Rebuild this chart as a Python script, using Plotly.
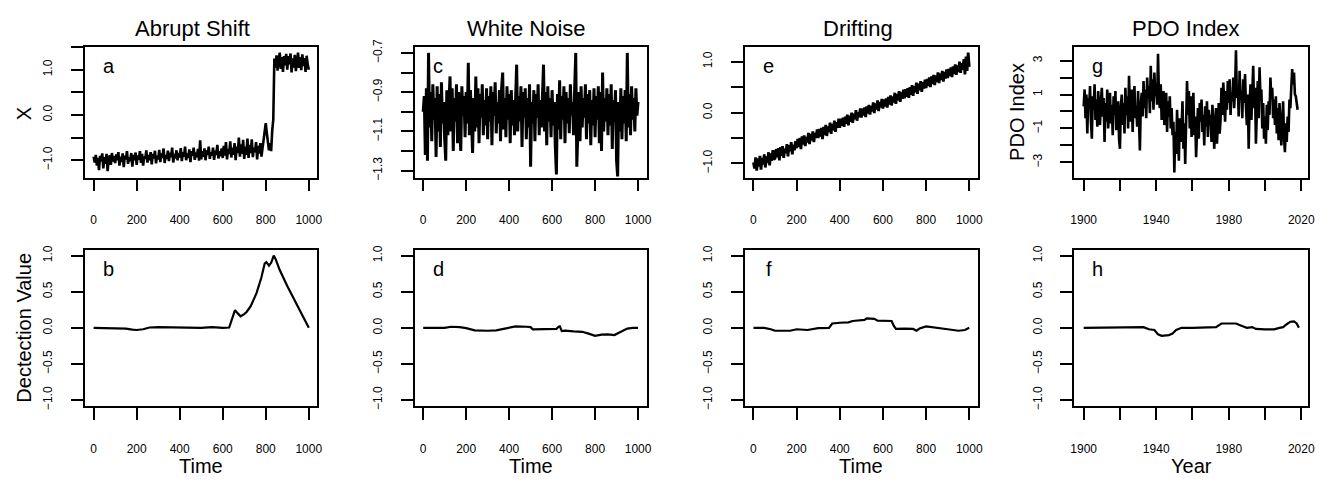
import numpy as np
import plotly.graph_objects as go

# ---------------- data ----------------
# Panel a: Abrupt Shift, sampled every 5 time steps (0..1000)
abrupt_vals = [
    -0.92,-1.05,-0.88,-1.12,-0.95,-1.22,-0.90,-1.02,-0.85,-1.18,-0.93,-1.08,-0.86,-1.24,-0.97,-0.89,-1.10,-0.84,-1.03,-0.91,
    -1.06,-0.87,-1.00,-0.82,-1.12,-0.92,-1.04,-0.85,-1.15,-0.90,-0.98,-0.80,-1.08,-0.93,-1.02,-0.84,-1.14,-0.88,-1.00,-0.83,
    -1.10,-0.89,-0.99,-0.80,-1.06,-0.86,-1.12,-0.92,-0.97,-0.78,-1.05,-0.88,-1.00,-0.82,-1.09,-0.86,-0.96,-0.79,-1.07,-0.90,
    -0.98,-0.77,-1.04,-0.85,-0.95,-0.74,-1.06,-0.88,-0.97,-0.79,-1.02,-0.83,-0.93,-0.72,-1.05,-0.86,-0.96,-0.78,-1.00,-0.84,
    -0.94,-0.73,-1.02,-0.82,-0.92,-0.70,-1.00,-0.85,-0.95,-0.76,-1.04,-0.80,-0.90,-0.72,-0.99,-0.83,-0.93,-0.75,-1.01,-0.56,
    -0.98,-0.80,-0.92,-0.74,-1.00,-0.78,-0.88,-0.70,-0.97,-0.82,-0.90,-0.72,-0.99,-0.79,-0.88,-0.66,-0.96,-0.80,-0.91,-0.74,
    -0.95,-0.68,-0.90,-0.60,-0.98,-0.75,-0.86,-0.58,-0.94,-0.72,-0.88,-0.62,-1.00,-0.70,-0.84,-0.50,-0.92,-0.65,-0.86,-0.55,
    -0.97,-0.70,-0.88,-0.52,-0.95,-0.66,-0.84,-0.54,-0.93,-0.72,-0.82,-0.60,-0.98,-0.68,-0.85,-0.62,-0.92,-0.70,-0.60,-0.38,
    -0.18,-0.40,-0.55,-0.78,-0.62,-0.80,-0.35,-0.10,1.25,1.05,1.32,0.98,1.20,1.38,1.02,1.28,0.95,1.30,1.10,1.35,
    1.00,1.30,1.12,1.36,0.94,1.25,1.05,1.33,0.97,1.22,1.38,1.04,1.28,0.99,1.34,1.08,1.26,0.95,1.31,1.12,
    1.00,
]

# Panel c: White Noise, every 5 time steps
noise_vals = [
    -1.00,-0.92,-1.22,-0.88,-1.25,-0.70,-1.08,-0.90,-1.15,-0.86,-1.04,-0.93,-1.23,-0.87,-1.10,-0.91,-1.18,-0.85,-1.06,-0.95,
    -1.14,-1.25,-0.89,-1.12,-0.95,-0.82,-1.10,-0.88,-1.20,-0.93,-1.05,-0.86,-1.16,-0.90,-1.08,-1.20,-0.87,-1.02,-0.92,-1.13,
    -0.90,-1.06,-0.75,-1.12,-0.89,-1.04,-1.21,-0.93,-1.10,-0.82,-1.08,-0.88,-1.16,-0.91,-1.03,-0.86,-1.12,-0.94,-1.07,-0.88,
    -1.14,-0.92,-1.05,-0.87,-1.17,-0.90,-1.02,-0.85,-1.11,-0.95,-1.06,-0.89,-1.15,-0.88,-0.80,-1.09,-0.93,-1.13,-0.87,-1.04,
    -0.91,-1.16,-0.89,-1.07,-0.94,-1.12,-0.86,-0.76,-1.10,-0.92,-1.05,-0.87,-1.18,-0.90,-1.03,-0.88,-1.14,-0.93,-1.08,-0.86,
    -1.28,-0.95,-1.06,-0.89,-1.15,-0.91,-1.03,-0.86,-1.12,-0.94,-1.08,-0.88,-0.76,-1.10,-0.90,-1.17,-0.87,-1.05,-0.93,-1.13,
    -0.89,-1.07,-0.95,-1.18,-1.32,-0.91,-1.09,-0.84,-1.14,-0.92,-1.04,-0.87,-1.16,-0.90,-1.06,-0.93,-1.11,-0.86,-1.02,-0.95,
    -1.12,-0.88,-0.70,-1.28,-1.05,-0.90,-1.15,-0.87,-1.08,-0.93,-1.03,-0.86,-1.14,-0.91,-1.06,-0.89,-1.17,-0.94,-1.07,-0.88,
    -1.13,-0.92,-1.04,-0.87,-1.16,-0.90,-1.20,-0.80,-1.10,-0.93,-1.05,-0.88,-1.12,-0.91,-1.07,-0.86,-1.19,-0.94,-1.05,-0.89,
    -1.25,-1.33,-0.95,-1.10,-0.88,-1.14,-0.92,-1.06,-0.89,-1.15,-0.70,-1.08,-0.91,-1.12,-0.87,-1.04,-0.93,-1.10,-0.88,-1.02,
    -0.95,
]

# Panel e: Drifting, every 5 time steps
drift_vals = [
    -0.98,-1.10,-0.88,-1.14,-0.90,-1.06,-0.85,-1.12,-0.89,-1.02,-0.82,-1.08,-0.86,-0.99,-0.78,-1.04,-0.80,-0.95,-0.74,-0.92,
    -0.90,-0.72,-0.88,-0.70,-0.94,-0.68,-0.85,-0.66,-0.89,-0.71,-0.80,-0.62,-0.86,-0.64,-0.76,-0.58,-0.82,-0.63,-0.74,-0.56,
    -0.70,-0.52,-0.68,-0.50,-0.72,-0.47,-0.63,-0.45,-0.66,-0.48,-0.59,-0.40,-0.62,-0.42,-0.55,-0.37,-0.58,-0.40,-0.50,-0.33,
    -0.50,-0.32,-0.47,-0.30,-0.52,-0.28,-0.44,-0.24,-0.46,-0.27,-0.38,-0.20,-0.42,-0.22,-0.35,-0.16,-0.38,-0.19,-0.30,-0.12,
    -0.30,-0.12,-0.26,-0.10,-0.28,-0.08,-0.22,-0.04,-0.25,-0.06,-0.18,0.00,-0.20,-0.02,-0.13,0.05,-0.16,0.01,-0.09,0.08,
    -0.10,0.08,-0.06,0.10,-0.09,0.12,-0.02,0.15,-0.04,0.13,0.02,0.20,-0.01,0.18,0.06,0.24,0.03,0.21,0.10,0.27,
    0.08,0.26,0.12,0.28,0.10,0.31,0.16,0.34,0.14,0.32,0.20,0.39,0.17,0.37,0.24,0.42,0.21,0.40,0.27,0.45,
    0.28,0.46,0.31,0.48,0.29,0.50,0.35,0.54,0.33,0.52,0.40,0.59,0.37,0.57,0.44,0.62,0.41,0.60,0.47,0.65,
    0.48,0.66,0.52,0.69,0.50,0.71,0.56,0.74,0.54,0.73,0.60,0.79,0.58,0.77,0.64,0.82,0.61,0.80,0.67,0.85,
    0.68,0.86,0.72,0.89,0.70,0.91,0.76,0.95,0.74,0.93,0.80,1.00,0.78,0.97,0.84,1.05,0.75,1.10,0.82,1.18,
    0.90,
]

# Panel g: PDO index, every half year 1900.0 .. 2018.0
pdo_vals = [
    0.3,1.3,-0.4,1.0,-1.3,0.8,0.2,1.5,-0.6,-1.6,0.9,0.1,1.6,-0.5,0.7,-0.9,1.2,0.0,-0.8,0.6,
    1.4,-0.3,0.8,-1.8,0.5,-0.6,1.3,-1.0,0.2,1.1,-0.7,0.4,-1.4,0.9,-0.2,1.2,-1.1,-0.3,0.6,-1.6,
    -2.2,0.3,1.0,-0.8,0.5,-1.3,1.4,-0.2,0.9,-1.0,2.1,0.2,-0.6,1.3,-1.2,0.6,1.5,-0.4,0.3,-0.9,
    1.2,-0.5,-2.3,0.4,1.1,-0.3,1.8,0.2,1.3,-0.4,2.0,0.8,1.5,-0.1,2.7,0.6,1.9,0.1,2.3,0.9,
    1.4,0.4,3.4,1.0,0.2,1.6,-0.5,0.8,1.2,-0.8,0.3,1.1,-1.2,0.6,-0.3,0.9,-1.0,0.2,-1.4,-0.6,
    -3.6,-1.2,-2.5,0.1,-1.6,-2.9,-0.4,-1.8,-0.9,0.6,-2.2,-0.7,-3.1,-1.3,1.8,-0.2,1.2,-1.0,0.9,-1.5,
    0.3,1.1,-1.4,-0.3,-2.7,-0.8,0.2,-1.6,0.5,-0.6,0.7,-1.2,-0.2,-2.0,0.3,-0.9,0.6,-1.5,0.1,-0.7,
    -0.2,-1.8,0.4,-0.6,-2.2,-0.9,0.2,-1.9,-0.4,0.5,-1.3,-0.5,1.4,-0.2,1.7,0.3,-0.6,1.2,0.1,1.8,
    0.5,1.9,-0.2,1.1,0.6,2.0,0.2,1.3,3.6,0.8,1.5,-0.3,2.4,0.7,1.2,-0.4,1.9,0.5,2.2,0.3,
    -0.8,1.0,-2.2,0.4,1.6,-0.5,0.9,2.7,0.2,1.4,-1.9,0.3,1.8,-0.4,2.6,0.9,1.3,-1.0,0.5,-1.6,
    -0.3,-1.9,0.4,-1.1,0.6,-0.2,2.0,0.8,1.4,-0.4,0.7,-0.8,0.9,-1.3,0.2,-1.7,0.5,-0.6,-2.0,-0.9,
    0.6,-1.5,-2.4,-0.7,-1.8,-0.3,-1.2,0.7,0.2,1.4,2.5,1.6,2.3,1.0,0.9,0.5,0.1,
]

# Bottom row: detection values
det_b_x = [0,50,100,150,180,200,230,260,300,400,500,550,580,600,630,645,657,670,683,700,711,730,757,780,795,803,815,825,837,846,865,900,926,950,972,990,1000]
det_b_y = [0,0,0,-0.01,-0.025,-0.03,-0.02,0.005,0.01,0.005,0.0,0.01,0.0,0.0,0.005,0.15,0.245,0.2,0.16,0.19,0.22,0.3,0.48,0.7,0.89,0.91,0.86,0.9,1.0,0.95,0.8,0.58,0.43,0.3,0.16,0.06,0.0]

det_d_x = [0,50,100,130,170,200,240,300,340,380,430,480,500,510,560,600,620,630,636,645,660,700,740,770,800,830,860,890,910,930,950,975,1000]
det_d_y = [0,0.005,0.0,0.015,0.01,-0.005,-0.035,-0.04,-0.035,-0.01,0.02,0.015,0.01,-0.02,-0.02,-0.02,-0.015,0.015,0.02,-0.045,-0.04,-0.05,-0.055,-0.08,-0.11,-0.095,-0.09,-0.1,-0.07,-0.04,-0.01,0.0,0.0]

det_f_x = [0,50,80,100,170,200,250,300,350,358,365,400,440,460,500,515,525,560,575,600,640,650,660,700,740,755,770,800,830,870,900,950,980,1000]
det_f_y = [0,0,-0.02,-0.04,-0.04,-0.02,-0.03,-0.005,0.0,0.03,0.06,0.07,0.075,0.095,0.1,0.11,0.13,0.125,0.1,0.1,0.095,0.03,-0.015,-0.01,-0.015,-0.04,-0.01,0.02,0.005,-0.01,-0.02,-0.04,-0.03,0.0]

det_h_x = [1900,1920,1925,1933,1936,1939,1941,1943,1947,1949,1951,1954,1960,1970,1973,1976,1980,1984,1987,1990,1993,1995,2000,2005,2008,2010,2012,2014,2016,2017.5,2018.7]
det_h_y = [0,0,0.01,0.01,-0.02,-0.03,-0.09,-0.11,-0.1,-0.08,-0.03,0.0,0.0,0.0,0.01,0.06,0.065,0.06,0.03,0.0,0.01,-0.015,-0.02,-0.02,0.0,0.01,0.05,0.085,0.09,0.06,0.0]

titles = ["Abrupt Shift", "White Noise", "Drifting", "PDO Index"]
letters_top = ["a", "c", "e", "g"]
letters_bot = ["b", "d", "f", "h"]
x_titles = ["Time", "Time", "Time", "Year"]

time_ticks = [0, 200, 400, 600, 800, 1000]
year_ticks = [1900, 1920, 1940, 1960, 1980, 2000, 2020]
year_text = ["1900", "", "1940", "", "1980", "", "2020"]

# ---------------- layout geometry ----------------
W, H = 1331, 482
FONT = "Liberation Sans, Arial, Helvetica, sans-serif"
cols = [(81.7, 316.0), (414.0, 648.0), (747.0, 982.0), (1079.0, 1315.0)]
top_row = (40.0, 174.0)
bot_row = (248.0, 408.0)
top_widths = [2.6, 3.0, 2.8, 2.6]

def xd(px0, px1):
    return [px0 / W, px1 / W]

def yd(py0, py1):
    return [1 - py1 / H, 1 - py0 / H]

fig = go.Figure()

t5 = [5 * i for i in range(len(abrupt_vals))]
pdo_x = [1900 + 0.5 * i for i in range(len(pdo_vals))]

top_series = [(t5, abrupt_vals), (t5, noise_vals), (t5, drift_vals), (pdo_x, pdo_vals)]
bot_series = [(det_b_x, det_b_y), (det_d_x, det_d_y), (det_f_x, det_f_y), (det_h_x, det_h_y)]

top_y = [
    dict(range=[-1.385, 1.503], tickvals=[-1, -0.5, 0, 0.5, 1, 1.5],
         ticktext=["\u22121.0", "", "0.0", "", "1.0", ""]),
    dict(range=[-1.336, -0.67], tickvals=[-1.3, -1.2, -1.1, -1.0, -0.9, -0.8, -0.7],
         ticktext=["\u22121.3", "", "\u22121.1", "", "\u22120.9", "", "\u22120.7"]),
    dict(range=[-1.28, 1.29], tickvals=[-1, -0.5, 0, 0.5, 1],
         ticktext=["\u22121.0", "", "0.0", "", "1.0"]),
    dict(range=[-3.9, 3.8], tickvals=[-3, -2, -1, 0, 1, 2, 3],
         ticktext=["\u22123", "", "\u22121", "", "1", "", "3"]),
]
bot_y = dict(range=[-1.08, 1.08], tickvals=[-1, -0.5, 0, 0.5, 1],
             ticktext=["\u22121.0", "\u22120.5", "0.0", "0.5", "1.0"])

common_axis = dict(showline=True, linecolor="black", linewidth=1.5, mirror=True,
                   ticks="outside", ticklen=12, tickwidth=1.5, tickcolor="black",
                   showgrid=False, zeroline=False, tickmode="array",
                   tickfont=dict(family=FONT, size=12, color="black"))

annotations = []
n = 0
for c in range(4):
    for r in range(2):
        n += 1
        xa = "x" if n == 1 else f"x{n}"
        ya = "y" if n == 1 else f"y{n}"
        xkey = "xaxis" if n == 1 else f"xaxis{n}"
        ykey = "yaxis" if n == 1 else f"yaxis{n}"
        px0, px1 = cols[c]
        row = top_row if r == 0 else bot_row
        if r == 0:
            xs, ys = top_series[c]
            lw = top_widths[c]
            yspec = top_y[c]
        else:
            xs, ys = bot_series[c]
            lw = 2.2
            yspec = bot_y
        fig.add_trace(go.Scatter(x=xs, y=ys, mode="lines", xaxis=xa, yaxis=ya,
                                 line=dict(color="black", width=lw),
                                 showlegend=False, hoverinfo="skip"))
        if c == 3:
            xspec = dict(range=[1894.7, 2023.8], tickvals=year_ticks, ticktext=year_text)
        else:
            xspec = dict(range=[-40, 1040], tickvals=time_ticks,
                         ticktext=[str(v) for v in time_ticks])
        xstand = 18 if r == 0 else 19
        fig.layout[xkey] = dict(domain=xd(px0, px1), anchor=ya, ticklabelstandoff=xstand,
                                **xspec, **common_axis)
        fig.layout[ykey] = dict(domain=yd(*row), anchor=xa, tickangle=-90,
                                ticklabelstandoff=14, **yspec, **common_axis)
        # panel letter
        letter = letters_top[c] if r == 0 else letters_bot[c]
        ly = 59 if r == 0 else 268
        annotations.append(dict(text=letter, x=(px0 + 24) / W, y=1 - ly / H,
                                xref="paper", yref="paper", xanchor="center", yanchor="middle",
                                showarrow=False, font=dict(family=FONT, size=20, color="black")))

# column titles
title_cx = [190, 527, 861, 1192]
for c in range(4):
    annotations.append(dict(text=titles[c], x=title_cx[c] / W, y=1 - 21 / H,
                            xref="paper", yref="paper", xanchor="center", yanchor="middle",
                            showarrow=False, font=dict(family=FONT, size=22, color="black")))
    cx = (cols[c][0] + cols[c][1]) / 2
    annotations.append(dict(text=x_titles[c], x=cx / W, y=1 - 470 / H,
                            xref="paper", yref="paper", xanchor="center", yanchor="middle",
                            showarrow=False, font=dict(family=FONT, size=20, color="black")))

# y axis titles
annotations.append(dict(text="X", x=20 / W, y=1 - 108 / H, xref="paper", yref="paper",
                        xanchor="center", yanchor="middle", textangle=-90, showarrow=False,
                        font=dict(family=FONT, size=20, color="black")))
annotations.append(dict(text="Dectection Value", x=20 / W, y=1 - 328 / H, xref="paper", yref="paper",
                        xanchor="center", yanchor="middle", textangle=-90, showarrow=False,
                        font=dict(family=FONT, size=20, color="black")))
annotations.append(dict(text="PDO Index", x=1022 / W, y=1 - 107 / H, xref="paper", yref="paper",
                        xanchor="center", yanchor="middle", textangle=-90, showarrow=False,
                        font=dict(family=FONT, size=20, color="black")))

fig.update_layout(width=W, height=H, margin=dict(l=0, r=0, t=0, b=0),
                  paper_bgcolor="white", plot_bgcolor="white",
                  annotations=annotations, showlegend=False,
                  font=dict(family=FONT, color="black"))

fig.write_html("out.html", config={"displayModeBar": False},
               post_script="document.body.style.margin='0';document.body.style.overflow='hidden';")
